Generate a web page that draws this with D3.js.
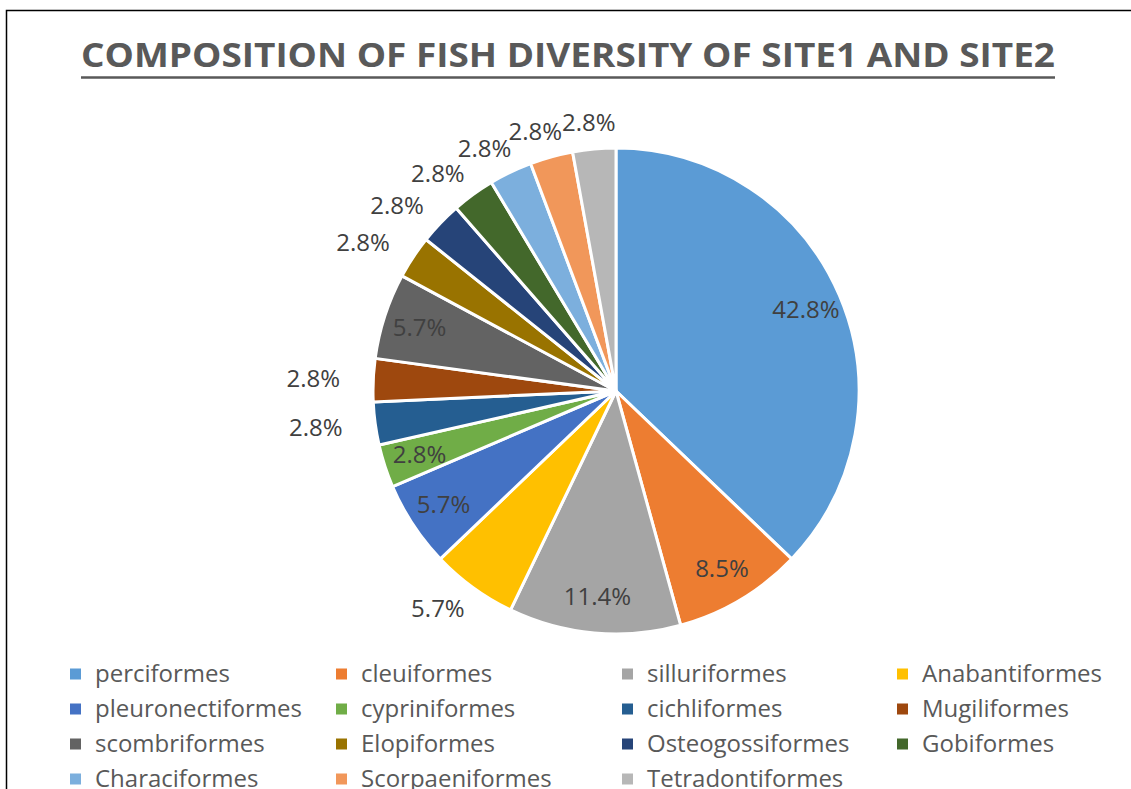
<!DOCTYPE html>
<html>
<head>
<meta charset="utf-8">
<script src="https://cdn.jsdelivr.net/npm/d3@7"></script>
<style>
  body { margin: 0; background: #fff; }
  svg { display: block; font-family: "Open Sans", sans-serif; }
</style>
</head>
<body>
<svg id="chart" width="1131" height="789"></svg>
<script>
// fish orders, in the clockwise order of the slices
var orders = ["perciformes", "cleuiformes", "silluriformes", "Anabantiformes",
  "pleuronectiformes", "cypriniformes", "cichliformes", "Mugiliformes",
  "scombriformes", "Elopiformes", "Osteogossiformes", "Gobiformes",
  "Characiformes", "Scorpaeniformes", "Tetradontiformes"];

// species counts (slice sizes)
var counts = [13, 3, 4, 2, 2, 1, 1, 1, 2, 1, 1, 1, 1, 1, 1];

// data labels as printed on the chart
var labels = ["42.8%", "8.5%", "11.4%", "5.7%", "5.7%", "2.8%", "2.8%", "2.8%",
  "5.7%", "2.8%", "2.8%", "2.8%", "2.8%", "2.8%", "2.8%"];

// where Excel put each label ("in" = inside slice, "out" = outside)
var labelSide = ["in", "in", "in", "out", "in", "in", "out", "out",
  "in", "out", "out", "out", "out", "out", "out"];

var colors = ["#5B9BD5", "#ED7D31", "#A5A5A5", "#FFC000", "#4472C4", "#70AD47",
  "#255E91", "#9E480E", "#636363", "#997300", "#264478", "#43682B",
  "#7CAFDD", "#F1975A", "#B7B7B7"];

var svg = d3.select("#chart"),
    cx = 616, cy = 391, radius = 243;

// frame (only left and top edges are visible)
svg.append("path")
    .attr("d", "M6.5,789 L6.5,10.5 L1131,10.5")
    .attr("fill", "none")
    .attr("stroke", "#000")
    .attr("stroke-width", 1.5);

// title
svg.append("text")
    .attr("x", 568)
    .attr("y", 67)
    .attr("text-anchor", "middle")
    .attr("font-size", 34)
    .attr("font-weight", "bold")
    .attr("fill", "#595959")
    .attr("textLength", 974)
    .attr("lengthAdjust", "spacingAndGlyphs")
    .text("COMPOSITION OF FISH DIVERSITY OF SITE1 AND SITE2");

svg.append("line")
    .attr("x1", 81).attr("x2", 1055)
    .attr("y1", 77.5).attr("y2", 77.5)
    .attr("stroke", "#595959")
    .attr("stroke-width", 2.5);

var color = d3.scaleOrdinal().domain(orders).range(colors);

var pie = d3.pie().sort(null).value(function(d) { return d.value; });
var arc = d3.arc().innerRadius(0).outerRadius(radius);

var data = orders.map(function(o, i) {
  return { name: o, value: counts[i], label: labels[i], side: labelSide[i] };
});

var g = svg.append("g").attr("transform", "translate(" + cx + "," + cy + ")");

var slices = pie(data);

g.selectAll("path")
    .data(slices)
    .enter().append("path")
      .attr("d", arc)
      .attr("fill", function(d) { return color(d.data.name); })
      .attr("stroke", "#fff")
      .attr("stroke-width", 3)
      .attr("stroke-linejoin", "round");

// data labels
g.selectAll("text.lbl")
    .data(slices)
    .enter().append("text")
      .attr("class", "lbl")
      .attr("text-anchor", "middle")
      .attr("dy", "0.35em")
      .attr("font-size", 24)
      .attr("fill", "#404040")
      .attr("transform", function(d) {
        var a = (d.startAngle + d.endAngle) / 2, x, y;
        if (d.data.side == "in") {
          var r = radius * 0.85;
          x = Math.sin(a) * r; y = -Math.cos(a) * r;
        } else {
          var r0 = radius + 14;
          x = Math.sin(a) * (r0 + 46);
          y = -Math.cos(a) * (r0 + 12);
        }
        return "translate(" + x + "," + y + ")";
      })
      .text(function(d) { return d.data.label; });

// legend, 4 columns
var legendX = [70, 336, 622, 897],
    legendY0 = 674, rowH = 35;

var legend = svg.append("g")
    .selectAll("g")
    .data(orders)
    .enter().append("g")
      .attr("transform", function(d, i) {
        return "translate(" + legendX[i % 4] + "," + (legendY0 + Math.floor(i / 4) * rowH) + ")";
      });

legend.append("rect")
    .attr("x", 0)
    .attr("y", -5.5)
    .attr("width", 11)
    .attr("height", 11)
    .attr("fill", color);

legend.append("text")
    .attr("x", 25)
    .attr("dy", "0.35em")
    .attr("font-size", 24)
    .attr("fill", "#595959")
    .text(function(d) { return d; });
</script>
</body>
</html>
